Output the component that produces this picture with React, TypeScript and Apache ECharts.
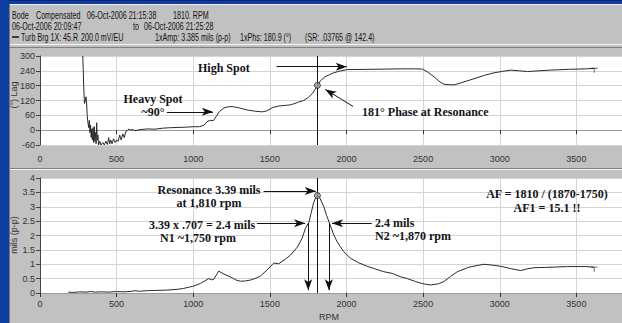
import React, { useEffect, useRef } from "react";
import * as echarts from "echarts";

// ---- data ----
const phaseRpm = [279, 282, 285, 290, 296, 300, 304, 308, 312, 318, 322, 326, 330, 334, 338, 342, 346, 350, 354, 358, 362, 366, 370, 374, 378, 382, 390, 398, 410, 420, 430, 440, 448, 455, 462, 470, 480, 490, 500, 510, 520, 530, 540, 550, 560, 570, 580, 590, 600, 620, 650, 700, 750, 800, 850, 900, 950, 1000, 1040, 1070, 1090, 1110, 1130, 1150, 1170, 1200, 1230, 1260, 1300, 1350, 1400, 1450, 1480, 1520, 1560, 1600, 1640, 1680, 1720, 1750, 1780, 1800, 1812, 1830, 1860, 1890, 1917, 1950, 2004, 2135, 2250, 2353, 2450, 2495, 2530, 2571, 2610, 2636, 2670, 2702, 2750, 2832, 2900, 2963, 3020, 3072, 3130, 3181, 3250, 3333, 3450, 3560, 3616];
const phaseDeg = [300, 250, 180, 108, 120, 135, 110, 60, 34, 10, 40, -10, 20, -30, 5, -40, 10, -50, 15, -45, -10, -55, 30, -40, -20, -60, -45, -60, -50, -60, -45, -58, -30, -55, -40, -55, -35, -50, -40, -45, -20, -40, -15, -30, -5, -2, 5, 0, 3, -2, 2, 5, 4, 8, 10, 11, 12, 14, 14, 20, 34, 40, 38, 55, 75, 90, 95, 95, 90, 82, 77, 74, 78, 92, 98, 100, 103, 112, 120, 132, 150, 170, 181, 200, 216, 225, 232, 238, 245, 246, 247, 248, 248, 247, 235, 216, 195, 186, 184, 183, 192, 208, 222, 232, 238, 243, 240, 237, 240, 243, 246, 248, 250];

const ampRpm = [185, 220, 260, 300, 330, 360, 400, 450, 500, 550, 600, 620, 650, 700, 750, 828, 900, 937, 1002, 1046, 1075, 1100, 1120, 1133, 1150, 1166, 1200, 1242, 1280, 1307, 1340, 1373, 1410, 1438, 1482, 1525, 1558, 1600, 1634, 1680, 1710, 1732, 1754, 1770, 1786, 1800, 1812, 1825, 1852, 1870, 1891, 1915, 1939, 1980, 2026, 2080, 2135, 2190, 2244, 2300, 2350, 2397, 2450, 2500, 2549, 2600, 2636, 2680, 2723, 2800, 2897, 2950, 3006, 3070, 3137, 3180, 3224, 3300, 3442, 3560, 3616];
const ampMils = [0.03, 0.02, 0.04, 0.03, 0.05, 0.03, 0.04, 0.03, 0.05, 0.04, 0.06, 0.08, 0.06, 0.08, 0.09, 0.1, 0.13, 0.16, 0.24, 0.33, 0.42, 0.5, 0.46, 0.47, 0.62, 0.76, 0.66, 0.56, 0.45, 0.41, 0.42, 0.45, 0.52, 0.59, 0.8, 1.04, 1.02, 1.17, 1.32, 1.6, 1.9, 2.25, 2.45, 2.8, 3.15, 3.33, 3.39, 3.32, 3.0, 2.7, 2.4, 2.05, 1.78, 1.45, 1.21, 1.05, 0.93, 0.83, 0.74, 0.68, 0.57, 0.5, 0.4, 0.32, 0.28, 0.32, 0.4, 0.58, 0.74, 0.9, 1.0, 0.97, 0.93, 0.85, 0.78, 0.84, 0.88, 0.89, 0.92, 0.92, 0.9];

const resonanceRpm = 1810;
const resonancePhase = 181;
const resonanceAmp = 3.39;
const n1Rpm = 1750;
const n2Rpm = 1885;
const halfPowerAmp = 2.43;

const rpmMax = 4000;
const phaseMin = -60;
const phaseMax = 300;
const ampMax = 4;

const headerLine1 = [
  ["Bode", 12],
  ["Compensated", 36],
  ["06-Oct-2006 21:15:38", 87],
  ["1810. RPM", 173],
];
const headerLine2 = [
  ["06-Oct-2006 20:09:47", 12],
  ["to", 133],
  ["06-Oct-2006 21:25:28", 144],
];
const headerLine3 = [
  ["Turb Brg 1X:", 21],
  ["45.R", 63],
  ["200.0 mV/EU", 81],
  ["1xAmp: 3.385 mils (p-p)", 155],
  ["1xPhs: 180.9 (\u00b0)", 240],
  ["(SR: .03765 @ 142.4)", 305],
];

const zip = (a: number[], b: number[]) => a.map((v, i) => [v, b[i]]);

const BG = "#c1c1c1";
const BLUE = "#0d3fa3";
const ANN = 'bold 12px "Liberation Serif", "Times New Roman", serif';
const ANN_C = "#141420";
const SANS = '"Liberation Sans", Arial, sans-serif';
const END_MARK = "path://M0,0H10V1.2H0Z M4.4,1.2H5.6V7H4.4Z";

export default function App() {
  const ref = useRef<HTMLDivElement>(null);
  useEffect(() => {
    if (!ref.current) return;
    const chart = echarts.init(ref.current, undefined, { renderer: "svg" });

    const hdrText = (arr: any[], y: number) =>
      arr.map(([t, x]) => ({
        type: "text",
        x,
        y,
        scaleX: 0.68,
        style: { text: t, x: 0, y: 0, font: `10.5px ${SANS}`, fill: "#111", textVerticalAlign: "middle" },
      }));

    const annText = (t: string, x: number, y: number, align = "left", lh = 13) => ({
      type: "text",
      z: 20,
      style: { text: t, x, y, font: ANN, fill: ANN_C, textAlign: align, textVerticalAlign: "top", lineHeight: lh },
    });

    const arrowStyle = { color: "#111", width: 1, type: "solid" as const };
    const arrowLine = (x1: number, y1: number, x2: number, y2: number) => [
      { coord: [x1, y1], symbol: "none", lineStyle: arrowStyle },
      { coord: [x2, y2], symbol: "arrow", symbolSize: [6, 11] },
    ];

    const xAxisBase = {
      type: "value",
      min: 0,
      max: rpmMax,
      interval: 500,
      axisLine: { show: true, lineStyle: { color: "#9a9a9a" } },
      axisTick: { show: true, length: 4, lineStyle: { color: "#333" } },
      axisLabel: { fontSize: 9, color: "#333", fontFamily: SANS, showMaxLabel: false, formatter: (v: number) => String(v) },
      splitLine: { show: true, lineStyle: { color: "#d4d4d4" } },
    };

    const yAxisBase = {
      type: "value",
      axisLine: { show: true, lineStyle: { color: "#444" } },
      axisTick: { show: true, length: 4, lineStyle: { color: "#444" } },
      axisLabel: { fontSize: 9, color: "#333", margin: 5, fontFamily: SANS },
      splitLine: { show: true, lineStyle: { color: "#d4d4d4" } },
    };

    const lastPhase = [phaseRpm[phaseRpm.length - 1], phaseDeg[phaseDeg.length - 1]];
    const lastAmp = [ampRpm[ampRpm.length - 1], ampMils[ampMils.length - 1]];

    const option: any = {
      animation: false,
      backgroundColor: BG,
      grid: [
        { left: 40, top: 56, width: 613, height: 89, show: true, backgroundColor: "#ffffff", borderWidth: 0 },
        { left: 40, top: 178, width: 613, height: 115, show: true, backgroundColor: "#ffffff", borderWidth: 0 },
      ],
      xAxis: [
        { ...xAxisBase, gridIndex: 0, axisLabel: { ...xAxisBase.axisLabel, margin: 9 } },
        { ...xAxisBase, gridIndex: 1, axisLabel: { ...xAxisBase.axisLabel, margin: 6 } },
      ],
      yAxis: [
        { ...yAxisBase, gridIndex: 0, min: phaseMin, max: phaseMax, interval: 60 },
        { ...yAxisBase, gridIndex: 1, min: 0, max: ampMax, interval: 0.5 },
      ],
      series: [
        {
          type: "line",
          xAxisIndex: 0,
          yAxisIndex: 0,
          data: zip(phaseRpm, phaseDeg),
          symbol: "none",
          clip: true,
          lineStyle: { color: "#2a2a2a", width: 1 },
          markLine: {
            silent: true,
            label: { show: false },
            symbol: ["none", "none"],
            lineStyle: { color: "#111", width: 1, type: "solid" },
            data: [
              [{ coord: [resonanceRpm, phaseMin], symbol: "none" }, { coord: [resonanceRpm, phaseMax], symbol: "none" }],
              arrowLine(1544, 257, 2002, 257),
              arrowLine(828, 74, 1128, 74),
              arrowLine(2043, 96, 1862, 165),
            ],
          },
        },
        {
          type: "scatter",
          xAxisIndex: 0,
          yAxisIndex: 0,
          data: [[resonanceRpm, resonancePhase]],
          symbol: "circle",
          symbolSize: 6,
          itemStyle: { color: "#9a9a9a", borderColor: "#222", borderWidth: 1 },
          z: 5,
        },
        {
          type: "scatter",
          xAxisIndex: 0,
          yAxisIndex: 0,
          data: [lastPhase],
          symbol: END_MARK,
          symbolSize: [7, 5],
          symbolOffset: [0, 2],
          itemStyle: { color: "#222" },
          z: 5,
        },
        {
          type: "line",
          xAxisIndex: 1,
          yAxisIndex: 1,
          data: zip(ampRpm, ampMils),
          symbol: "none",
          clip: true,
          lineStyle: { color: "#2a2a2a", width: 1 },
          markLine: {
            silent: true,
            label: { show: false },
            symbol: ["none", "none"],
            lineStyle: { color: "#111", width: 1, type: "solid" },
            data: [
              [{ coord: [resonanceRpm, 0], symbol: "none" }, { coord: [resonanceRpm, ampMax], symbol: "none" }],
              arrowLine(1459, 3.55, 1800, 3.55),
              arrowLine(1415, halfPowerAmp, 1730, halfPowerAmp),
              arrowLine(n1Rpm, halfPowerAmp, n1Rpm, 0.1),
              arrowLine(2165, halfPowerAmp, 1905, halfPowerAmp),
              arrowLine(n2Rpm, halfPowerAmp, n2Rpm, 0.1),
            ],
          },
        },
        {
          type: "scatter",
          xAxisIndex: 1,
          yAxisIndex: 1,
          data: [[resonanceRpm, resonanceAmp]],
          symbol: "circle",
          symbolSize: 6,
          itemStyle: { color: "#9a9a9a", borderColor: "#222", borderWidth: 1 },
          z: 5,
        },
        {
          type: "scatter",
          xAxisIndex: 1,
          yAxisIndex: 1,
          data: [lastAmp],
          symbol: END_MARK,
          symbolSize: [7, 5],
          symbolOffset: [0, 2],
          itemStyle: { color: "#222" },
          z: 5,
        },
      ],
      graphic: [
        // window frame
        { type: "rect", shape: { x: 0, y: 0, width: 700, height: 4 }, style: { fill: BLUE } },
        { type: "rect", shape: { x: 0, y: 0, width: 700, height: 1 }, style: { fill: "#06207a" } },
        { type: "rect", shape: { x: 0, y: 0, width: 9, height: 323 }, style: { fill: BLUE } },
        { type: "rect", shape: { x: 9, y: 4, width: 1, height: 319 }, style: { fill: "#7a7a7a" } },
        { type: "rect", shape: { x: 10, y: 4, width: 690, height: 1 }, style: { fill: "#efefef" } },
        { type: "rect", shape: { x: 10, y: 44, width: 690, height: 1 }, style: { fill: "#f4f4f4" } },
        { type: "rect", shape: { x: 10, y: 47, width: 690, height: 1 }, style: { fill: "#808080" } },
        { type: "rect", shape: { x: 10, y: 168, width: 690, height: 1 }, style: { fill: "#808080" } },
        { type: "rect", shape: { x: 10, y: 169, width: 690, height: 1 }, style: { fill: "#f4f4f4" } },
        // header
        ...hdrText(headerLine1, 15),
        ...hdrText(headerLine2, 26),
        ...hdrText(headerLine3, 37),
        { type: "line", shape: { x1: 12, y1: 37, x2: 19, y2: 37 }, style: { stroke: "#111", lineWidth: 1.5 } },
        // axis names
        {
          type: "text",
          rotation: Math.PI / 2,
          x: 14,
          y: 95,
          style: { text: "(\u00b0) Lag", font: `9px ${SANS}`, fill: "#333", textAlign: "center", textVerticalAlign: "middle" },
        },
        {
          type: "text",
          rotation: Math.PI / 2,
          x: 14,
          y: 235,
          style: { text: "mils (p-p)", font: `9px ${SANS}`, fill: "#333", textAlign: "center", textVerticalAlign: "middle" },
        },
        {
          type: "text",
          style: { text: "RPM", x: 329, y: 317, font: `9px ${SANS}`, fill: "#333", textAlign: "center", textVerticalAlign: "middle" },
        },
        // annotations
        annText("High Spot", 198, 61),
        annText("Heavy Spot\n~90\u00b0", 153, 92, "center", 13),
        annText("181\u00b0 Phase at Resonance", 362, 105),
        annText("Resonance 3.39 mils\nat 1,810 rpm", 209, 183, "center", 13),
        annText("3.39 x .707 = 2.4 mils", 149, 218),
        annText("N1 ~1,750 rpm", 160, 231),
        annText("2.4 mils\nN2 ~1,870 rpm", 375, 216, "left", 13),
        annText("AF = 1810 / (1870-1750)\nAF1 = 15.1 !!", 547, 187, "center", 14),
      ],
    };

    chart.setOption(option);
    return () => chart.dispose();
  }, []);

  return (
    <div style={{ position: "fixed", left: 0, top: 0, width: 622, height: 323, overflow: "hidden" }}>
      <div ref={ref} style={{ width: 660, height: 323 }} />
    </div>
  );
}
